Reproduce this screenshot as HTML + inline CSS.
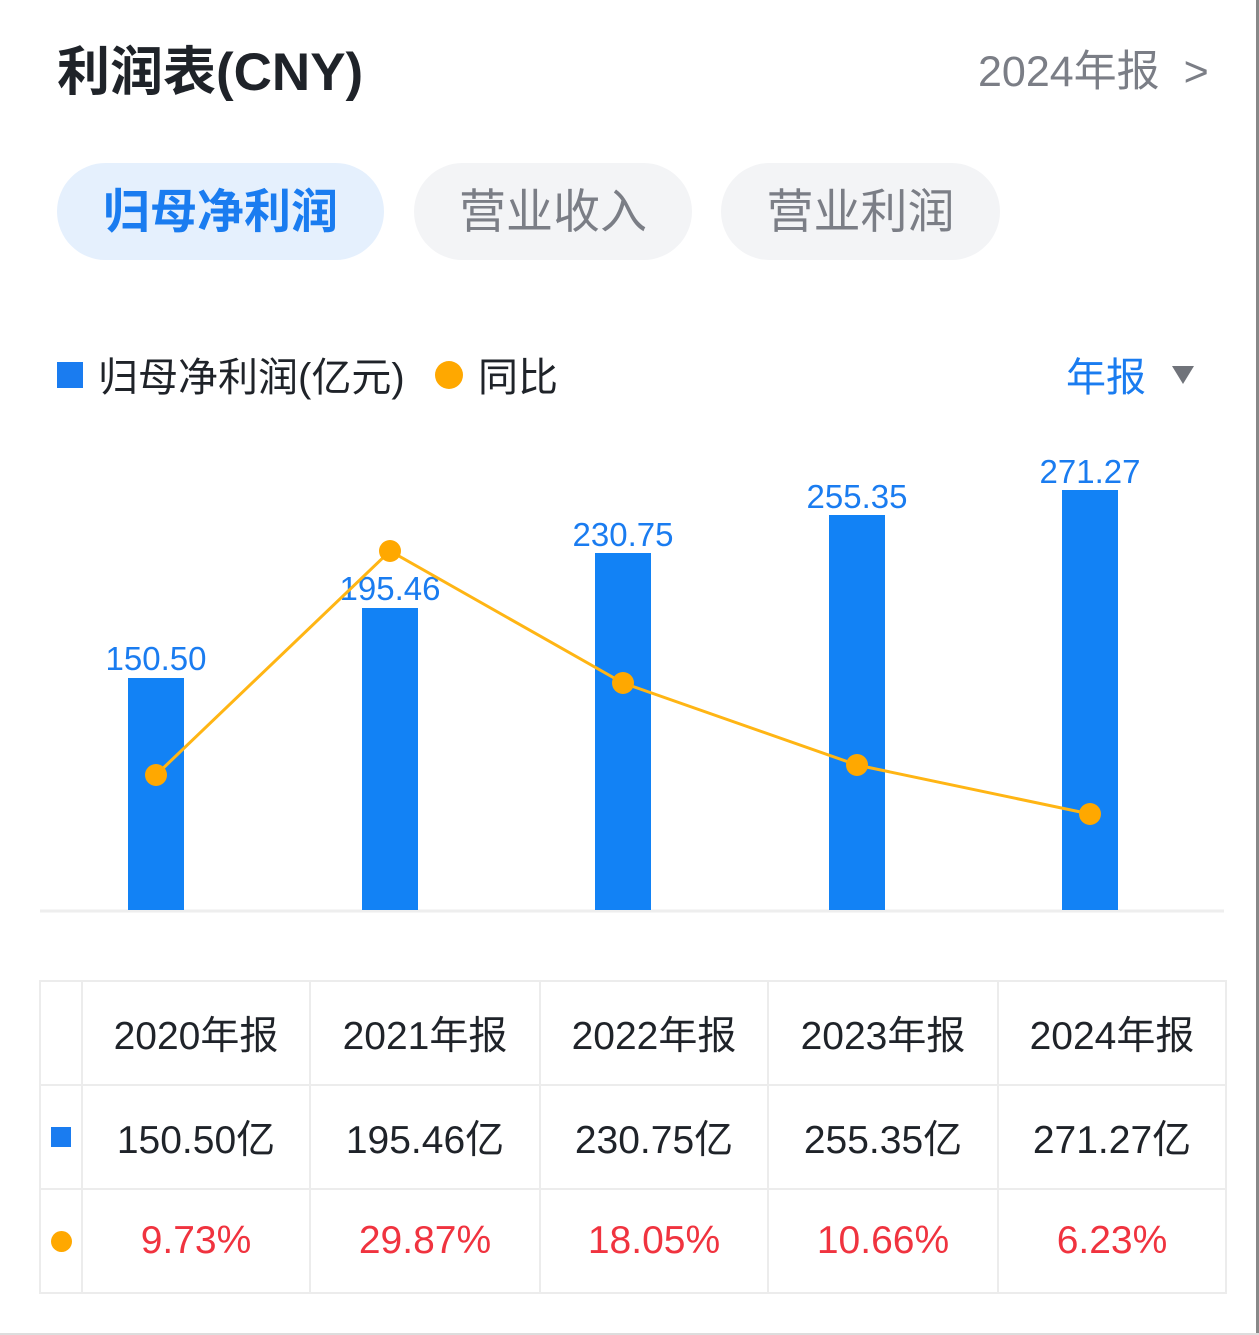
<!DOCTYPE html><html><head><meta charset="utf-8"><style>
body{margin:0;width:1259px;height:1335px;background:#fff;position:relative;overflow:hidden;font-family:"Liberation Sans","Noto Sans CJK SC",sans-serif}
.a{position:absolute;white-space:nowrap}
.pill{position:absolute;top:163px;height:97px;border-radius:49px;background:#f3f4f6;color:#7b7e86;font-size:47px;line-height:97px;text-align:center}
table{position:absolute;left:39px;top:980px;border-collapse:collapse}
td{border:2px solid #ececec;text-align:center;font-size:39px;color:#1f2329;padding:0;height:102px}
.r td{color:#f0333f}
</style></head><body>
<div style="position:absolute;right:0;top:0;width:3px;height:1335px;background:#888"></div>
<div style="position:absolute;left:0;bottom:0;width:1259px;height:2px;background:#ddd"></div>
<div class="a" style="left:57px;top:30px;font-size:53px;font-weight:bold;color:#1f2329">利润表(CNY)</div>
<div class="a" style="left:978px;top:37px;font-size:43px;color:#7b7e86">2024年报 <span style="margin-left:12px">&gt;</span></div>
<div class="pill" style="left:57px;width:327px;background:#e5f0fd;color:#1a7cf0;font-weight:bold">归母净利润</div>
<div class="pill" style="left:414px;width:278px">营业收入</div>
<div class="pill" style="left:721px;width:279px">营业利润</div>
<div class="a" style="left:57px;top:362px;width:26px;height:26px;background:#1a7cf0"></div>
<div class="a" style="left:98px;top:345px;font-size:40px;color:#1f2329">归母净利润(亿元)</div>
<div class="a" style="left:435px;top:361px;width:28px;height:28px;border-radius:50%;background:#ffa800"></div>
<div class="a" style="left:478px;top:345px;font-size:40px;color:#1f2329">同比</div>
<div class="a" style="left:1066px;top:345px;font-size:40px;color:#1a7cf0">年报</div>
<div class="a" style="left:1172px;top:366px;width:0;height:0;border-left:11px solid transparent;border-right:11px solid transparent;border-top:18px solid #70737a"></div>
<svg class="a" style="left:0;top:0" width="1259" height="960">
<line x1="40" y1="911" x2="1224" y2="911" stroke="#eee" stroke-width="3"/>
<g fill="#1282f5">
<rect x="128" y="678" width="56" height="232"/><rect x="362" y="608" width="56" height="302"/><rect x="595" y="553" width="56" height="357"/><rect x="829" y="515" width="56" height="395"/><rect x="1062" y="490" width="56" height="420"/></g>
<g fill="#1a7cf0" font-size="33" text-anchor="middle" font-family="Liberation Sans,sans-serif">
<text x="156" y="670">150.50</text><text x="390" y="600">195.46</text><text x="623" y="546">230.75</text><text x="857" y="508">255.35</text><text x="1090" y="483">271.27</text></g>
<polyline points="156,775 390,551 623,683 857,765 1090,814" fill="none" stroke="#ffb514" stroke-width="3"/>
<g fill="#ffa800"><circle cx="156" cy="775" r="11"/><circle cx="390" cy="551" r="11"/><circle cx="623" cy="683" r="11"/><circle cx="857" cy="765" r="11"/><circle cx="1090" cy="814" r="11"/></g>
</svg>
<table>
<tr><td style="width:40px"></td><td style="width:226px">2020年报</td><td style="width:228px">2021年报</td><td style="width:226px">2022年报</td><td style="width:228px">2023年报</td><td style="width:226px">2024年报</td></tr>
<tr><td><div style="width:20px;height:20px;background:#1a7cf0;margin:auto"></div></td><td>150.50亿</td><td>195.46亿</td><td>230.75亿</td><td>255.35亿</td><td>271.27亿</td></tr>
<tr class="r"><td><div style="width:21px;height:21px;border-radius:50%;background:#ffa800;margin:auto"></div></td><td>9.73%</td><td>29.87%</td><td>18.05%</td><td>10.66%</td><td>6.23%</td></tr>
</table>
</body></html>
